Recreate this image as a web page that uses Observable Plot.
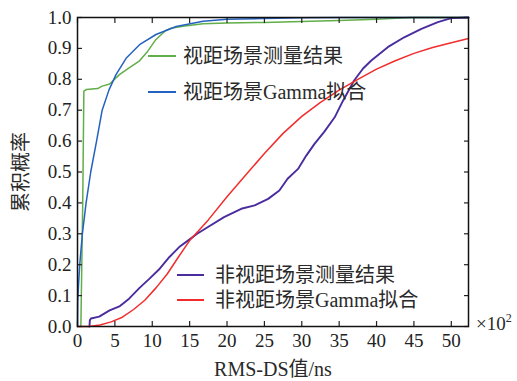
<!DOCTYPE html>
<html>
<head>
<meta charset="utf-8">
<script src="https://cdn.jsdelivr.net/npm/d3@7"></script>
<script src="https://cdn.jsdelivr.net/npm/@observablehq/plot@0.6"></script>
<style>
  html, body { margin: 0; padding: 0; background: #fff; }
  #wrap { position: relative; width: 517px; height: 381px; overflow: hidden; }
  #wrap svg { position: absolute; left: 0; top: 0; }
  .serif { font-family: "Liberation Serif", "Noto Sans CJK SC", serif; color: #2a2a2a; }
  .legend { position: absolute; font-size: 20px; line-height: 22px; white-space: nowrap; }
  .legend .row { position: absolute; left: 0; height: 22px; white-space: nowrap; }
  .legend .sw { position: absolute; left: 0; top: 10px; height: 1.6px; }
  .legend .tx { position: absolute; top: 0; }
  .ylab { position: absolute; font-size: 20px; line-height: 22px; transform: translate(-50%, -50%) rotate(-90deg); white-space: nowrap; }
  .xlab { position: absolute; font-size: 20px; line-height: 22px; transform: translateX(-50%); white-space: nowrap; }
  .mult { position: absolute; font-size: 19px; line-height: 22px; white-space: nowrap; }
  .mult sup { font-size: 12px; vertical-align: 8px; line-height: 0; }
</style>
</head>
<body>
<div id="wrap"></div>
<script>
// RMS delay spread (x 10^2 ns) vs cumulative probability
const losMeasured = [
  [0.45, 0], [0.7, 0.4], [0.85, 0.762], [1.2, 0.767], [2.7, 0.77], [3.3, 0.778],
  [4.3, 0.785], [5.6, 0.815], [6.9, 0.837], [8.3, 0.86], [9.4, 0.891], [10.5, 0.929],
  [11.8, 0.958], [12.5, 0.965], [14.1, 0.972], [16.8, 0.98], [20, 0.982], [25, 0.984],
  [30, 0.987], [35, 0.99], [40, 0.994], [44.5, 1], [52.3, 1]
];
const losGamma = [
  [0, 0], [0.03, 0.08], [0.15, 0.14], [0.3, 0.2], [0.65, 0.3], [1.15, 0.4], [1.77, 0.5],
  [2.55, 0.6], [3.3, 0.7], [4.2, 0.765], [5.15, 0.815], [6.5, 0.868], [8.3, 0.912],
  [10.5, 0.945], [13.2, 0.971], [16.8, 0.988], [20, 0.994], [25, 0.997], [30, 0.999],
  [35, 1], [52.3, 1]
];
const nlosMeasured = [
  [1.6, 0], [1.65, 0.02], [1.8, 0.026], [2.9, 0.032], [4.3, 0.052], [5.6, 0.065],
  [6.9, 0.09], [8.3, 0.125], [9.6, 0.154], [11, 0.187], [12.3, 0.225], [13.6, 0.257],
  [15, 0.282], [16, 0.3], [17.4, 0.321], [19.6, 0.354], [21.9, 0.381], [23.7, 0.392],
  [25.5, 0.413], [27, 0.44], [28.1, 0.478], [29.5, 0.51], [30.6, 0.553], [31.7, 0.591],
  [33, 0.63], [34.4, 0.677], [35.5, 0.73], [37, 0.796], [38.2, 0.835], [39.3, 0.861],
  [41.5, 0.904], [43.7, 0.936], [46, 0.963], [48.2, 0.985], [50, 0.998], [52.3, 1]
];
const nlosGamma = [
  [0, 0], [1.5, 0], [3, 0.005], [4.5, 0.015], [6, 0.03], [7.5, 0.055], [9, 0.085],
  [10.5, 0.125], [12, 0.17], [13.5, 0.225], [15, 0.278], [17.5, 0.345], [20, 0.42],
  [22.5, 0.49], [25, 0.56], [27.5, 0.625], [30, 0.68], [32.5, 0.725], [35, 0.765],
  [37.5, 0.8], [40, 0.833], [42.5, 0.86], [45, 0.884], [47.5, 0.903], [50, 0.918],
  [52.3, 0.932]
];

const xTicks = [0, 5, 10, 15, 20, 25, 30, 35, 40, 45, 50];
const yTicks = [0, 0.1, 0.2, 0.3, 0.4, 0.5, 0.6, 0.7, 0.8, 0.9, 1.0];

const seriesNames = ["视距场景测量结果", "视距场景Gamma拟合", "非视距场景测量结果", "非视距场景Gamma拟合"];
const seriesColors = ["#62ae48", "#2462c2", "#4a2c9e", "#f22c2c"];
const seriesData = [losMeasured, losGamma, nlosMeasured, nlosGamma];

const xLabel = "RMS-DS值/ns";
const yLabel = "累积概率";

const serifFont = "Liberation Serif";

const lines = seriesData.map((d, i) =>
  Plot.line(d, {x: p => p[0], y: p => p[1], stroke: seriesColors[i], strokeWidth: i === 2 ? 1.9 : 1.5})
);

const chart = Plot.plot({
  width: 517,
  height: 381,
  marginLeft: 77,
  marginRight: 49,
  marginTop: 17,
  marginBottom: 55,
  style: {fontFamily: serifFont, fontSize: "19px", color: "#222", background: "transparent"},
  x: {domain: [0, 52.3]},
  y: {domain: [0, 1]},
  marks: [
    ...lines,
    // inward tick marks on all four sides
    Plot.axisX(xTicks, {anchor: "bottom", tickSize: -5, text: null, label: null, strokeWidth: 1.2}),
    Plot.axisX(xTicks, {anchor: "top", tickSize: -5, text: null, label: null, strokeWidth: 1.2}),
    Plot.axisY(yTicks, {anchor: "left", tickSize: -5, text: null, label: null, strokeWidth: 1.2}),
    Plot.axisY(yTicks, {anchor: "right", tickSize: -5, text: null, label: null, strokeWidth: 1.2}),
    // tick labels
    Plot.axisX(xTicks, {anchor: "bottom", tickSize: 0, tickPadding: 7, label: null, fill: "#222",
      fontFamily: serifFont, fontSize: 19}),
    Plot.axisY(yTicks, {anchor: "left", tickSize: 0, tickPadding: 6, label: null, fill: "#222",
      tickFormat: d3.format(".1f"), fontFamily: serifFont, fontSize: 19}),
    Plot.frame({stroke: "#111", strokeWidth: 1.5})
  ]
});

const wrap = document.getElementById("wrap");
wrap.appendChild(chart);

// legend blocks: a short colour swatch followed by the series name
function addLegend(left, top, idx, rowGap, swatchWidth, gap) {
  const box = document.createElement("div");
  box.className = "legend serif";
  box.style.left = left + "px";
  box.style.top = top + "px";
  idx.forEach((i, k) => {
    const row = document.createElement("div");
    row.className = "row";
    row.style.top = (k * rowGap) + "px";
    const sw = document.createElement("div");
    sw.className = "sw";
    sw.style.width = swatchWidth + "px";
    sw.style.background = seriesColors[i];
    row.appendChild(sw);
    const t = document.createElement("span");
    t.className = "tx";
    t.style.left = (swatchWidth + gap) + "px";
    t.textContent = seriesNames[i];
    row.appendChild(t);
    box.appendChild(row);
  });
  wrap.appendChild(box);
}
addLegend(148, 45, [0, 1], 36, 28, 7);
addLegend(177, 264, [2, 3], 25, 27, 11);

const yl = document.createElement("div");
yl.className = "ylab serif";
yl.style.left = "21px";
yl.style.top = "172px";
yl.textContent = yLabel;
wrap.appendChild(yl);

const xl = document.createElement("div");
xl.className = "xlab serif";
xl.style.left = "273px";
xl.style.top = "358px";
xl.textContent = xLabel;
wrap.appendChild(xl);

const m = document.createElement("div");
m.className = "mult serif";
m.style.left = "476px";
m.style.top = "313px";
m.innerHTML = "×10<sup>2</sup>";
wrap.appendChild(m);
</script>
</body>
</html>
